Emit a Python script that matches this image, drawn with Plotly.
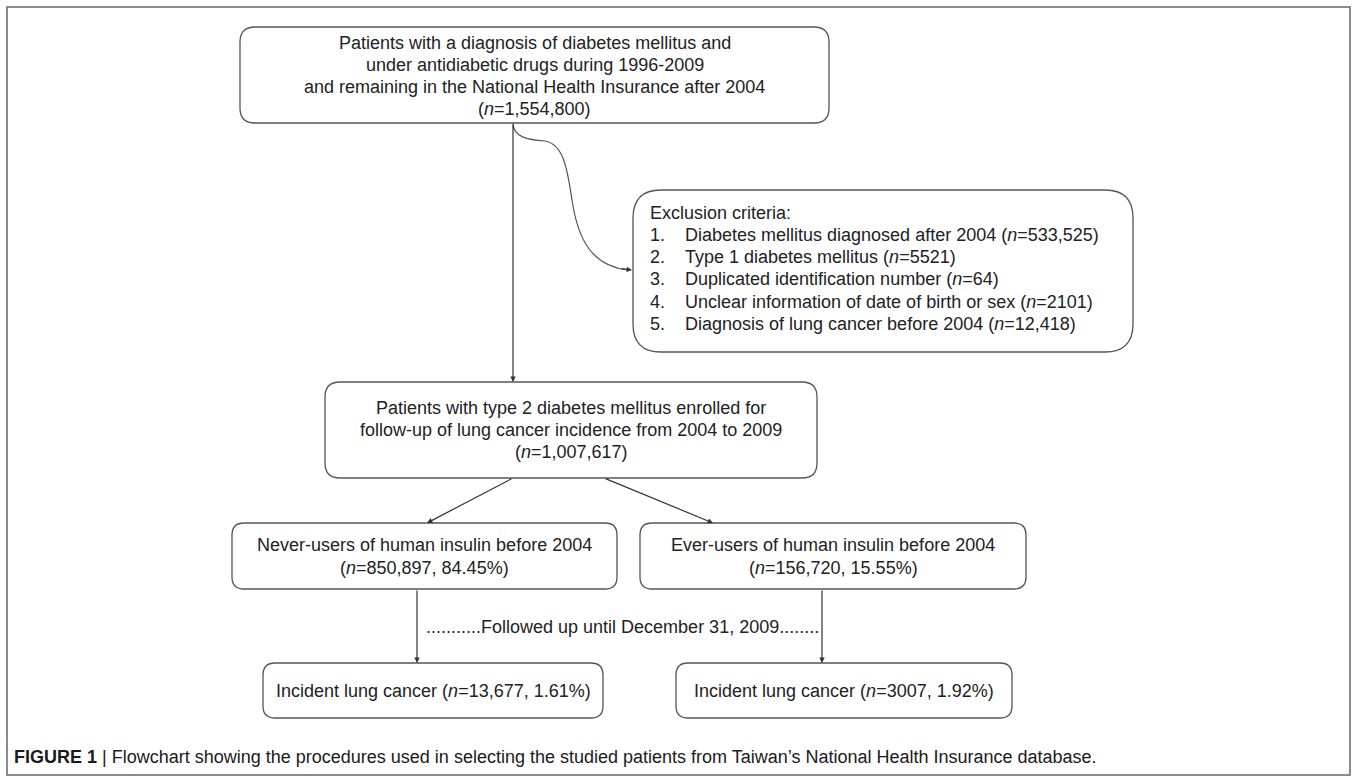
import plotly.graph_objects as go

# ---------------- data (texts and counts) ----------------
top_lines = ["Patients with a diagnosis of diabetes mellitus and",
             "under antidiabetic drugs during 1996-2009",
             "and remaining in the National Health Insurance after 2004"]
top_n = "1,554,800"

excl_title = "Exclusion criteria:"
excl_items = ["Diabetes mellitus diagnosed after 2004",
              "Type 1 diabetes mellitus",
              "Duplicated identification number",
              "Unclear information of date of birth or sex",
              "Diagnosis of lung cancer before 2004"]
excl_n = ["533,525", "5521", "64", "2101", "12,418"]

mid_lines = ["Patients with type 2 diabetes mellitus enrolled for",
             "follow-up of lung cancer incidence from 2004 to 2009"]
mid_n = "1,007,617"

group_labels = ["Never-users of human insulin before 2004",
                "Ever-users of human insulin before 2004"]
group_n = ["850,897", "156,720"]
group_pct = ["84.45%", "15.55%"]

followup_text = "...........Followed up until December 31, 2009........"
incident_label = "Incident lung cancer"
incident_n = ["13,677", "3007"]
incident_pct = ["1.61%", "1.92%"]

caption_bold = "FIGURE 1"
caption_text = "Flowchart showing the procedures used in selecting the studied patients from Taiwan\u2019s National Health Insurance database."

# ---------------- layout geometry (pixels, y downward) ----------------
W, H = 1357, 781
FONT = "Liberation Sans, Arial, sans-serif"
TXT = "#222222"
LINE = "#555555"
FS = 18

boxes = {
    "top": (240, 27, 829, 123, 15),
    "exc": (633, 190, 1133, 352, 28),
    "mid": (325, 382, 817, 478, 15),
    "nev": (232, 523, 617, 589, 12),
    "evr": (640, 523, 1026, 589, 12),
    "inc1": (263, 663, 603, 718, 12),
    "inc2": (676, 663, 1012, 718, 12),
}


def rrect(x0, y0, x1, y1, r):
    return (f"M {x0+r},{y0} L {x1-r},{y0} Q {x1},{y0} {x1},{y0+r} "
            f"L {x1},{y1-r} Q {x1},{y1} {x1-r},{y1} L {x0+r},{y1} "
            f"Q {x0},{y1} {x0},{y1-r} L {x0},{y0+r} Q {x0},{y0} {x0+r},{y0} Z")


shapes = []
# outer frame
shapes.append(dict(type="rect", x0=7, y0=7, x1=1350, y1=775,
                   line=dict(color="#666666", width=1.5), layer="below"))
for k, (x0, y0, x1, y1, r) in boxes.items():
    shapes.append(dict(type="path", path=rrect(x0, y0, x1, y1, r),
                       line=dict(color=LINE, width=1.3), fillcolor="white"))

# curved connector to exclusion box
shapes.append(dict(type="path",
                   path="M 513,123 C 513,137 528,140 545,141 C 565,144 568,175 572,200 "
                        "C 578,240 592,266 628,270",
                   line=dict(color=LINE, width=1.2)))

annotations = []


def text(x, y, s, size=FS, xanchor="center", color=TXT):
    annotations.append(dict(x=x, y=y, text=s, showarrow=False, xanchor=xanchor,
                            yanchor="middle", font=dict(family=FONT, size=size, color=color)))


def arrow(x0, y0, x1, y1):
    annotations.append(dict(x=x1, y=y1, ax=x0, ay=y0, xref="x", yref="y",
                            axref="x", ayref="y", text="", showarrow=True,
                            arrowhead=2, arrowsize=0.9, arrowwidth=1.2,
                            arrowcolor="#333333", standoff=0))


# top box
cx = (240 + 829) / 2
for i, s in enumerate(top_lines):
    text(cx, 43 + 22 * i, s)
text(cx, 109, f"(<i>n</i>={top_n})")

# exclusion box
text(648, 213, excl_title, xanchor="left")
for i, (s, n) in enumerate(zip(excl_items, excl_n)):
    y = 235 + 22.2 * i
    text(648, y, f"{i+1}.", xanchor="left")
    text(683, y, f"{s} (<i>n</i>={n})", xanchor="left")

# middle box
cx = (325 + 817) / 2
for i, s in enumerate(mid_lines):
    text(cx, 408 + 22 * i, s)
text(cx, 452, f"(<i>n</i>={mid_n})")

# group boxes
for key, lab, n, p in zip(["nev", "evr"], group_labels, group_n, group_pct):
    x0, y0, x1, y1, _ = boxes[key]
    c = (x0 + x1) / 2
    text(c, 545, lab)
    text(c, 568, f"(<i>n</i>={n}, {p})")

# follow-up
text(622, 627, followup_text)

# incident boxes
for key, n, p in zip(["inc1", "inc2"], incident_n, incident_pct):
    x0, y0, x1, y1, _ = boxes[key]
    text((x0 + x1) / 2, (y0 + y1) / 2, f"{incident_label} (<i>n</i>={n}, {p})")

# caption
text(12, 757, f"<b>{caption_bold}</b> | {caption_text}", size=18, xanchor="left", color="#1a1a1a")

# arrows
arrow(513, 123, 513, 382)
arrow(620, 268.5, 632, 270)
arrow(513, 478, 427, 523)
arrow(604, 478, 713, 523)
arrow(417, 589, 417, 663)
arrow(822, 589, 822, 663)

fig = go.Figure()
fig.update_layout(
    width=W, height=H, margin=dict(l=0, r=0, t=0, b=0),
    plot_bgcolor="white", paper_bgcolor="white",
    xaxis=dict(range=[0, W], visible=False, fixedrange=True),
    yaxis=dict(range=[H, 0], visible=False, fixedrange=True),
    shapes=shapes, annotations=annotations, showlegend=False,
)
fig.write_html("out.html", config={"displayModeBar": False},
               post_script="document.body.style.margin='0';document.body.style.overflow='hidden';")
